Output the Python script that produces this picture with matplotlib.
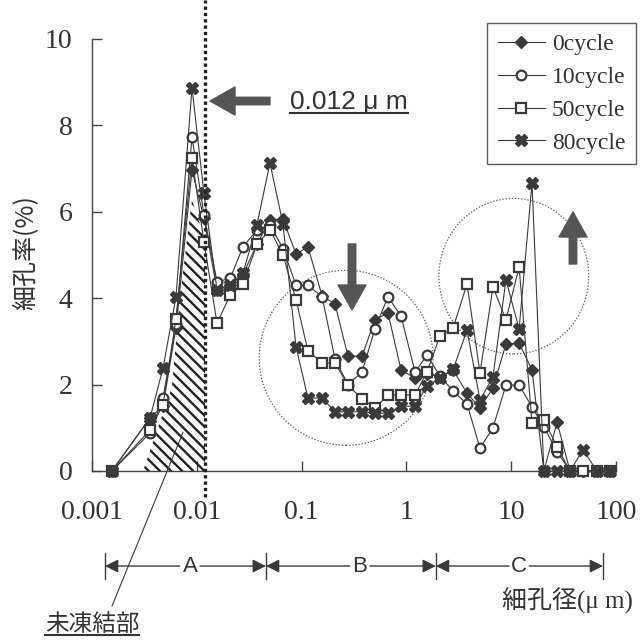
import numpy as np
import matplotlib
matplotlib.use("Agg")
import matplotlib.pyplot as plt
from matplotlib.patches import Ellipse

# pore diameter (um) of every measuring step
pore_um = [0.00155, 0.00358, 0.00476, 0.00633, 0.0090, 0.0117, 0.0156, 0.0208,
           0.0276, 0.0375, 0.0499, 0.0664, 0.0885, 0.115, 0.157, 0.208, 0.277,
           0.377, 0.501, 0.667, 0.888, 1.21, 1.57, 2.09, 2.79, 3.79, 5.04, 6.70,
           8.91, 11.9, 15.8, 20.5, 27.4, 36.4, 48.4, 65.9, 87.7]

# pore ratio (%) per freeze-thaw cycle
cycle0 = [0, 1.23, 1.5, 3.31, 6.97, 5.85, 4.2, 4.3, 4.55, 5.25, 5.81, 5.83, 5.02,
          5.19, 4.05, 3.87, 2.66, 2.66, 3.5, 3.66, 2.34, 2.15, 2.25, 2.18, 2.34,
          1.8, 1.46, 1.92, 2.94, 2.96, 2.34, 0, 1.13, 0, 0, 0, 0]
cycle10 = [0, 0.88, 1.69, 3.4, 7.73, 5.93, 4.38, 4.46, 5.19, 5.58, 5.7, 5.15, 4.3,
           4.3, 4.03, 2.6, 2.0, 2.29, 3.29, 4.03, 3.59, 2.29, 2.68, 2.2, 1.85,
           1.55, 0.53, 1.0, 1.99, 1.99, 1.48, 1.02, 0.45, 0, 0, 0, 0]
cycle50 = [0, 0.95, 1.53, 3.52, 7.25, 5.3, 3.42, 4.07, 4.33, 5.25, 5.58, 5.0, 3.96,
           2.78, 2.5, 2.5, 1.99, 1.67, 1.46, 1.76, 1.76, 1.76, 2.29, 3.13, 3.31,
           4.33, 2.27, 4.26, 3.5, 4.72, 1.11, 1.18, 0.56, 0, 0, 0, 0]
cycle80 = [0, 1.23, 2.38, 4.03, 8.87, 6.43, 4.19, 4.3, 4.58, 5.7, 7.13, 5.72, 2.87,
           1.69, 1.69, 1.37, 1.37, 1.37, 1.34, 1.34, 1.5, 1.5, 1.97, 2.15, 2.35,
           3.26, 1.64, 2.18, 4.42, 3.29, 6.67, 0, 0, 0, 0.49, 0, 0]

series_names = ["0cycle", "10cycle", "50cycle", "80cycle"]

xticks = [0.001, 0.01, 0.1, 1, 10, 100]
xtick_labels = ["0.001", "0.01", "0.1", "1", "10", "100"]
yticks = [0, 2, 4, 6, 8, 10]

# unfrozen part (hatched) outline
unfrozen_x = [0.00307, 0.00579, 0.00691, 0.00824, 0.0090, 0.012, 0.012]
unfrozen_y = [0, 1.94, 4.01, 5.56, 6.27, 5.35, 0]

# range boundaries A / B / C
range_edges = [0.00133, 0.0457, 1.91, 75.2]
range_names = ["A", "B", "C"]
range_label_x = [0.0086, 0.36, 11.9]

peak_um = 0.012

W, H = 641, 642
fig = plt.figure(figsize=(W / 100, H / 100), dpi=100)
ax = fig.add_axes([92 / W, 1 - 471 / H, 524 / W, 432 / H])

dark = "#3a3a3a"
plt.rcParams["hatch.linewidth"] = 1.7

styles = [dict(marker="D", mfc=dark, mec=dark, ms=6.5),
          dict(marker="o", mfc="white", mec=dark, ms=7, mew=1.6),
          dict(marker="s", mfc="white", mec=dark, ms=7, mew=1.6),
          dict(marker="X", mfc=dark, mec=dark, ms=8.5)]

for vals, name, st in zip([cycle0, cycle10, cycle50, cycle80], series_names, styles):
    ax.plot(pore_um, vals, color=dark, lw=0.8, label=name, clip_on=False, zorder=3, **st)

ax.fill(unfrozen_x, unfrozen_y, facecolor="none", edgecolor="#222222",
        hatch="\\\\\\", linewidth=0, zorder=2)

ax.plot([peak_um, peak_um], [-0.6, 10.9], color="#222222", lw=2.4,
        linestyle=(0, (1, 0.9)), clip_on=False, zorder=4)

ax.set_xscale("log")
ax.set_xlim(0.001, 100)
ax.set_ylim(0, 10)
ax.set_xticks(xticks)
ax.set_xticklabels(xtick_labels)
ax.minorticks_off()
ax.set_yticks(yticks)
for s in ["top", "right"]:
    ax.spines[s].set_visible(False)
for s in ["left", "bottom"]:
    ax.spines[s].set_color("#444444")
    ax.spines[s].set_linewidth(1.0)
ax.tick_params(direction="in", length=7, width=1, color="#444444",
               labelsize=20, labelcolor="#333333")
ax.tick_params(axis="x", pad=21)
ax.tick_params(axis="y", pad=14)
for t in ax.get_xticklabels() + ax.get_yticklabels():
    t.set_fontfamily("Liberation Serif")

# dotted circles (in axes fraction)
ax.add_patch(Ellipse((0.485, 0.262), 0.332, 0.405, transform=ax.transAxes,
                     fill=False, ls=(0, (1, 1.5)), lw=0.9, ec="#555555", clip_on=False))
ax.add_patch(Ellipse((0.805, 0.451), 0.286, 0.36, transform=ax.transAxes,
                     fill=False, ls=(0, (1, 1.5)), lw=0.9, ec="#555555", clip_on=False))

# big gray arrows
big = dict(arrowstyle="simple,head_length=0.5,head_width=0.56,tail_width=0.15",
           color="#555555", mutation_scale=36, shrinkA=0, shrinkB=0)
ax.annotate("", xy=(210, H - 101), xytext=(270, H - 101), xycoords="figure pixels",
            textcoords="figure pixels", arrowprops=big)
ax.annotate("", xy=(352, H - 310), xytext=(352, H - 244), xycoords="figure pixels",
            textcoords="figure pixels", arrowprops=big)
ax.annotate("", xy=(573, H - 212), xytext=(573, H - 264), xycoords="figure pixels",
            textcoords="figure pixels", arrowprops=big)

texts_to_underline = []
t1 = fig.text(290 / W, 1 - 102 / H, "0.012 μ m", fontsize=19, color="#333333",
              family="Liberation Sans", ha="left", va="center")
texts_to_underline.append(t1)

# A / B / C ranges under the axis
trans = ax.get_xaxis_transform()
row_y = -0.22
for xe in range_edges:
    ax.plot([xe, xe], [row_y - 0.03, row_y + 0.03], transform=trans, color=dark,
            lw=1.0, clip_on=False)
small = dict(arrowstyle="-|>", color=dark, lw=1.0, mutation_scale=20, shrinkA=0, shrinkB=0)
for i, (name, lx) in enumerate(zip(range_names, range_label_x)):
    left, right = range_edges[i], range_edges[i + 1]
    ax.text(lx, row_y, name, transform=trans, ha="center", va="center",
            fontsize=16, family="Liberation Sans", color="#333333")
    ax.annotate("", xy=(left, row_y), xytext=(lx / 1.25, row_y), xycoords=trans,
                textcoords=trans, arrowprops=small)
    ax.annotate("", xy=(right, row_y), xytext=(lx * 1.25, row_y), xycoords=trans,
                textcoords=trans, arrowprops=small)

# labels
fig.text(25 / W, 1 - 253 / H, "細孔率(%)", rotation=90, ha="center", va="center",
         fontsize=18, family=["Noto Sans CJK JP", "DejaVu Sans"], color="#333333")
fig.text(567 / W, 1 - 600 / H, "細孔径(μ m)", ha="center", va="center", fontsize=18,
         family=["Liberation Serif", "Noto Sans CJK JP"], color="#333333")
t2 = fig.text(92 / W, 1 - 624 / H, "未凍結部", ha="center", va="center", fontsize=17,
              family=["Noto Sans CJK JP"], color="#333333")
texts_to_underline.append(t2)

# leader line to the unfrozen part
ax.annotate("", xy=(0.0074, 0.9), xycoords="data", xytext=(112, H - 606),
            textcoords="figure pixels",
            arrowprops=dict(arrowstyle="-", lw=0.8, color=dark, shrinkA=0, shrinkB=0))

leg = fig.legend(loc="upper left", bbox_to_anchor=(487 / W, 1 - 23 / H),
                 prop={"family": "Liberation Serif", "size": 17}, frameon=True,
                 fancybox=False, borderaxespad=0, handlelength=2.0,
                 handletextpad=0.3, labelspacing=0.48, borderpad=0.45)
leg.get_frame().set_edgecolor("#333333")
leg.get_frame().set_linewidth(1.0)
for t in leg.get_texts():
    t.set_color("#333333")

fig.canvas.draw()
r = fig.canvas.get_renderer()
for t in texts_to_underline:
    bb = t.get_window_extent(r)
    y = (bb.y0 + 1) / H
    fig.add_artist(plt.Line2D([bb.x0 / W, bb.x1 / W], [y, y], transform=fig.transFigure,
                              color="#333333", lw=1.5))

fig.savefig("out.png", dpi=100)
